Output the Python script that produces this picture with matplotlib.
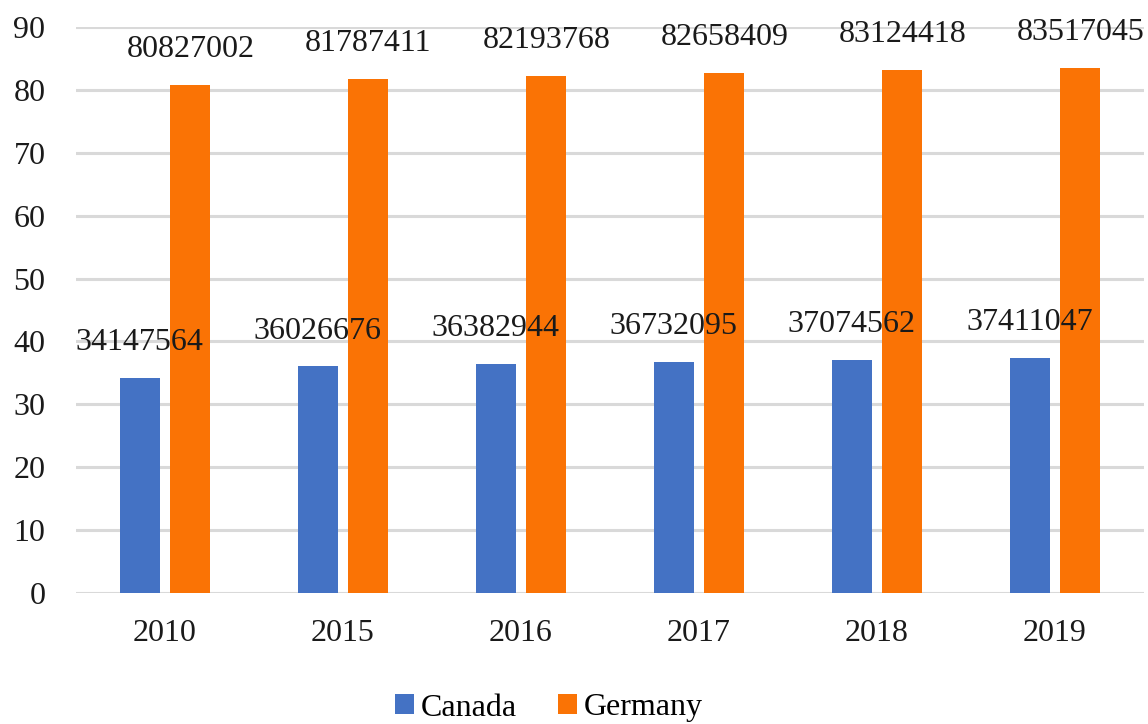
import matplotlib
matplotlib.use("Agg")
import matplotlib.pyplot as plt
import numpy as np

years = ["2010", "2015", "2016", "2017", "2018", "2019"]
canada = [34147564, 36026676, 36382944, 36732095, 37074562, 37411047]
germany = [80827002, 81787411, 82193768, 82658409, 83124418, 83517045]
series_names = ["Canada", "Germany"]
yticks = [0, 10, 20, 30, 40, 50, 60, 70, 80, 90]

plt.rcParams['font.family'] = ['Liberation Serif', 'DejaVu Serif']

fig = plt.figure(figsize=(11.48, 7.24), dpi=100)
ax = fig.add_axes([76/1148, 1 - 593/724, (1144 - 76)/1148, (593 - 27)/724])

x = np.arange(len(years))
w = 0.225
off = 0.143
c_blue = "#4472C4"
c_orange = "#FA7305"

b1 = ax.bar(x - off, np.array(canada) / 1e6, w, color=c_blue, label=series_names[0], zorder=3)
b2 = ax.bar(x + off, np.array(germany) / 1e6, w, color=c_orange, label=series_names[1], zorder=3)

for bars, vals in ((b1, canada), (b2, germany)):
    for rect, v in zip(bars, vals):
        ax.annotate(str(v), (rect.get_x() + rect.get_width() / 2, rect.get_height()),
                    xytext=(0, 20), textcoords="offset points",
                    ha="center", va="baseline", fontsize=23, color="#1a1a1a", zorder=4)

ax.set_xlim(-0.5, len(years) - 0.5)
ax.set_ylim(0, 90)
ax.set_yticks(yticks)
ax.set_xticks(x)
ax.set_xticklabels(years)
ax.tick_params(axis="both", length=0, labelsize=23, colors="#1a1a1a")
ax.tick_params(axis="y", pad=22)
ax.tick_params(axis="x", pad=19)
ax.grid(axis="y", color="#d9d9d9", linewidth=2.2, zorder=0)
for s in ax.spines.values():
    s.set_visible(False)

fig.legend(handles=[b1, b2], labels=series_names, loc="center",
           bbox_to_anchor=(549/1148, 1 - 708/724), ncol=2, frameon=False,
           fontsize=23, handlelength=0.6, handleheight=0.6, handletextpad=0.2,
           columnspacing=1.3, borderpad=0.1)

fig.savefig("out.png", dpi=100)
